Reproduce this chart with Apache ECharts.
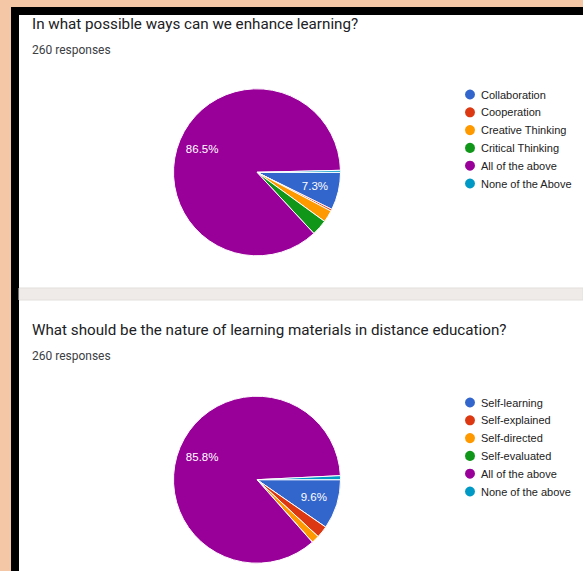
<!DOCTYPE html>
<html>
<head>
<meta charset="utf-8">
<script src="https://cdn.jsdelivr.net/npm/echarts@6/dist/echarts.min.js"></script>
<style>
html,body{margin:0;padding:0;background:#f4c7a6;}
#c{width:583px;height:571px;}
</style>
</head>
<body>
<div id="c"></div>
<script>
// ---- Data ----
const title1 = 'In what possible ways can we enhance learning?';
const title2 = 'What should be the nature of learning materials in distance education?';
const responses1 = '260 responses';
const responses2 = '260 responses';
const categories1 = ['Collaboration', 'Cooperation', 'Creative Thinking', 'Critical Thinking', 'All of the above', 'None of the Above'];
const values1 = [19, 1, 6, 8, 225, 1];
const categories2 = ['Self-learning', 'Self-explained', 'Self-directed', 'Self-evaluated', 'All of the above', 'None of the above'];
const values2 = [25, 6, 4, 0, 223, 2];
const palette = ['#3366cc', '#dc3912', '#ff9900', '#109618', '#990099', '#0099c6'];

const chart = echarts.init(document.getElementById('c'), null, {renderer: 'svg'});

function mk(cats, vals) {
  return cats.map((n, i) => ({name: n, value: vals[i], itemStyle: {color: palette[i]}}));
}
function mkT(cats, vals) {
  return cats.map((n, i) => ({name: n, value: vals[i]}));
}
const labelFmt = p => (p.percent >= 5 ? p.percent.toFixed(1) + '%' : '');

function mainPie(cats, vals, cy) {
  return {
    type: 'pie', center: [257, cy], radius: 83.5, startAngle: 0, clockwise: true,
    data: mk(cats, vals), label: {show: false}, labelLine: {show: false},
    itemStyle: {borderColor: '#fff', borderWidth: 1}, animation: false, z: 2,
    emphasis: {scale: false}
  };
}
function labelPie(cats, vals, cy) {
  return {
    type: 'pie', center: [257, cy], radius: 113, startAngle: 0, clockwise: true,
    data: mkT(cats, vals), silent: true, animation: false, z: 3,
    itemStyle: {color: 'rgba(0,0,0,0)', borderWidth: 0},
    label: {show: true, position: 'inside', formatter: labelFmt, color: '#fff',
            fontFamily: 'Liberation Sans, Arial', fontSize: 11.5},
    labelLine: {show: false}, emphasis: {disabled: true}, tooltip: {show: false}
  };
}
const titleFont = {fontFamily: 'Roboto, Arial', fontSize: 15.2, fontWeight: 'normal', color: '#202124'};
const subFont = {fontFamily: 'Roboto, Arial', fontSize: 12, fontWeight: 'normal', color: '#3c4043'};
const legendBase = {
  orient: 'vertical', left: 463, icon: 'circle', itemWidth: 12, itemHeight: 12, itemGap: 3.8, padding: 0,
  textStyle: {fontFamily: 'Liberation Sans, Arial', fontSize: 11, color: '#222'},
  selectedMode: false
};

chart.setOption({
  animation: false,
  graphic: [
    {type: 'rect', shape: {x: 0, y: 0, width: 583, height: 571}, style: {fill: '#f4c7a6'}, z: -10, silent: true},
    {type: 'rect', shape: {x: 11, y: 7, width: 572, height: 564}, style: {fill: '#000'}, z: -9, silent: true},
    {type: 'rect', shape: {x: 19, y: 15, width: 564, height: 556}, style: {fill: '#fff'}, z: -8, silent: true},
    {type: 'rect', shape: {x: 19, y: 288, width: 564, height: 12}, style: {fill: '#efebe8', stroke: '#e2dfdc', lineWidth: 1}, z: -7, silent: true}
  ],
  title: [
    {text: title1, left: 32, top: 16, padding: 0, textStyle: titleFont},
    {text: responses1, left: 32, top: 43.5, padding: 0, textStyle: subFont},
    {text: title2, left: 32, top: 322, padding: 0, textStyle: titleFont},
    {text: responses2, left: 32, top: 350, padding: 0, textStyle: subFont}
  ],
  legend: [
    Object.assign({}, legendBase, {top: 87.5, data: categories1}),
    Object.assign({}, legendBase, {top: 395.5, data: categories2})
  ],
  series: [
    mainPie(categories1, values1, 172.3),
    mainPie(categories2, values2, 479.7),
    labelPie(categories1, values1, 172.3),
    labelPie(categories2, values2, 479.7)
  ]
});
</script>
</body>
</html>
